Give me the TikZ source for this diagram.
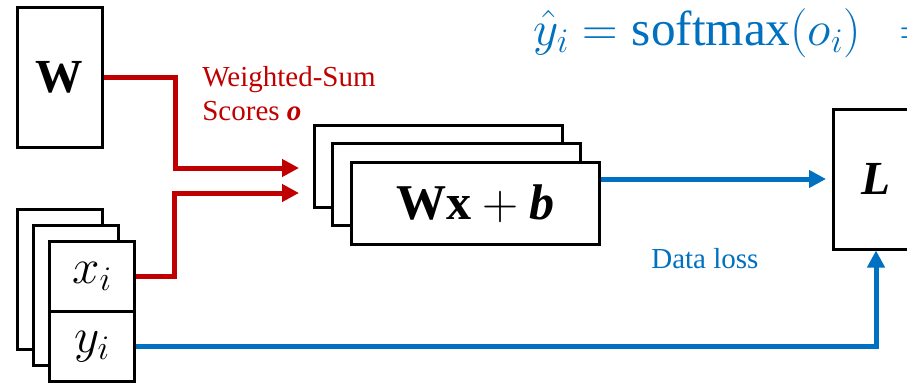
\RequirePackage{fix-cm}
\documentclass[tikz,border=0pt]{standalone}
\usepackage{amsmath}
\usepackage{fontspec}
\setmainfont{Liberation Serif}
\usetikzlibrary{positioning,arrows.meta,calc}
\definecolor{lossblue}{RGB}{0,112,192}
\definecolor{scorered}{RGB}{192,0,0}

\begin{document}
\begin{tikzpicture}[>={Triangle[length=0.34cm,width=0.34cm]},
    box/.style={draw, line width=0.06cm, fill=white, inner sep=0pt},
    big/.style={font=\fontsize{27}{32}\selectfont},
    lbl/.style={font=\fontsize{16.5}{19.5}\selectfont, inner sep=0pt},
    redline/.style={->, scorered, line width=0.1cm},
    blueline/.style={->, lossblue, line width=0.1cm}]
  \def\bw{1.7cm}  \def\bh{2.8cm}
  \useasboundingbox (0,0) rectangle (18.14,7.70);

  % weights
  \node[box, big, minimum width=\bw, minimum height=\bh] (W)
      at (1.19,6.15) {\textbf{W}};

  % stacked samples (back to front)
  \coordinate (xc) at (1.84,1.47);
  \node[box, minimum width=\bw, minimum height=\bh] (x3)
      at ($(xc)+(-0.64,0.64)$) {};
  \node[box, minimum width=\bw, minimum height=\bh] (x2)
      at ($(xc)+(-0.32,0.33)$) {};
  \node[box, big, font=\fontsize{28}{33}\selectfont,
        minimum width=\bw, minimum height=0.5*\bh] (xi)
      at ($(xc)+(0,0.7)$) {$x_i$};
  \node[box, big, font=\fontsize{28}{33}\selectfont,
        minimum width=\bw, minimum height=0.5*\bh,
        below=-0.06cm of xi] (yi) {$y_i$};

  % score layer (back to front)
  \coordinate (sc) at (9.51,3.63);
  \node[box, minimum width=4.96cm, minimum height=1.64cm] (wxb3)
      at ($(sc)+(-0.75,0.74)$) {};
  \node[box, minimum width=4.96cm, minimum height=1.64cm] (wxb2)
      at ($(sc)+(-0.38,0.38)$) {};
  \node[box, big, font=\fontsize{28.5}{34}\selectfont,
        minimum width=4.96cm, minimum height=1.64cm] (wxb1)
      at (sc) {$\textbf{Wx}+\textbf{\textit{b}}$};

  % loss
  \node[box, big, minimum width=\bw, minimum height=\bh] (L)
      at (17.52,4.12) {\textbf{\textit{L}}};

  \node[big, font=\fontsize{28}{33}\selectfont, text=lossblue,
        anchor=base west, inner sep=0pt] (yhat)
      at (10.66,6.80) {$\hat{y}_i = \mathrm{softmax}(o_i) \mkern9mu =$};

  % connectors
  \coordinate (inW) at ($(wxb3.west)+(-0.27,-0.03)$);
  \coordinate (inX) at ($(wxb3.west)+(-0.27,-0.53)$);
  \draw[redline] (W.east) -- ++(1.43,0) |- (inW);
  \draw[redline] (xi.east) -- ++(0.77,0) |- (inX);
  \draw[blueline, shorten >=0.12cm] (wxb1.east |- L.west) -- (L.west);
  \draw[blueline] (yi.east) -| (L.south);

  \node[lbl, text=scorered, align=left, anchor=north west] (score)
      at (4.04,6.38) {Weighted-Sum\\Scores \textbf{\textit{o}}};
  \node[lbl, text=lossblue, anchor=base west] (dl)
      at (13.02,2.34) {Data loss};
\end{tikzpicture}
\end{document}
